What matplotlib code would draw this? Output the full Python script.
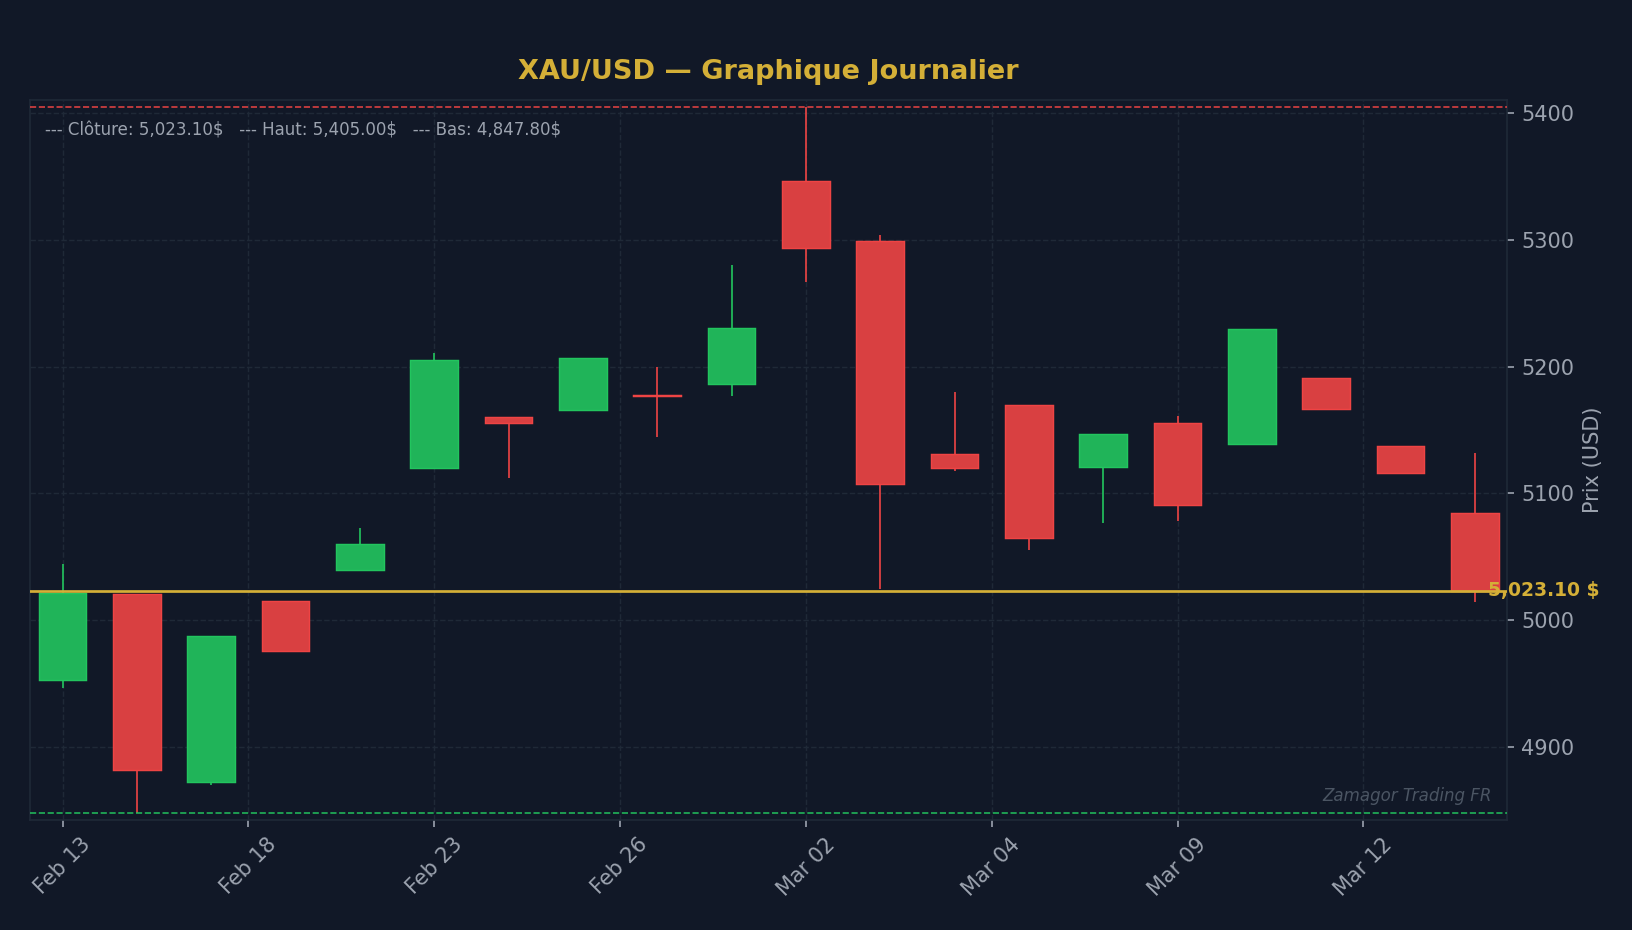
import matplotlib
matplotlib.use('Agg')
import matplotlib.pyplot as plt
from matplotlib.colors import to_rgb
from matplotlib.ticker import MultipleLocator

# daily candles
dates = ['Feb 13', 'Feb 17', 'Feb 18', 'Feb 19', 'Feb 20', 'Feb 23', 'Feb 24', 'Feb 25',
         'Feb 26', 'Feb 27', 'Mar 02', 'Mar 03', 'Mar 04', 'Mar 05', 'Mar 06', 'Mar 09',
         'Mar 10', 'Mar 11', 'Mar 12', 'Mar 13']
opens = [4952.3, 5020.6, 4871.7, 5014.7, 5039.4, 5120.0, 5160.0, 5165.8, 5177.5, 5186.5,
         5347.0, 5299.4, 5130.9, 5169.8, 5120.8, 5155.6, 5138.6, 5191.2, 5137.5, 5084.5]
highs = [5043.8, 5020.6, 4987.1, 5014.7, 5072.8, 5211.2, 5160.0, 5206.8, 5199.6, 5280.2,
         5405.0, 5303.8, 5180.3, 5169.8, 5146.9, 5160.7, 5230.1, 5191.2, 5137.5, 5132.0]
lows = [4946.5, 4847.8, 4869.9, 4975.5, 5039.4, 5120.0, 5112.4, 5165.8, 5144.4, 5176.7,
        5267.1, 5024.2, 5117.5, 5055.0, 5076.5, 5077.9, 5138.6, 5166.9, 5115.7, 5014.0]
closes = [5021.6, 4881.8, 4987.1, 4975.5, 5059.8, 5205.4, 5155.6, 5206.8, 5176.8, 5230.8,
          5294.0, 5107.7, 5120.0, 5064.9, 5146.9, 5090.6, 5230.1, 5166.9, 5115.7, 5023.1]
tick_pos = [0, 2.5, 5, 7.5, 10, 12.5, 15, 17.5]

BG = '#111827'
GRID = '#1f2937'
TXT = '#9ca3af'
GREEN = '#22c55e'
RED = '#ef4444'
GOLD = '#d4af37'


def blend(c, a=0.9):
    # opaque version of colour c at alpha a over the background
    fg, bg = to_rgb(c), to_rgb(BG)
    return tuple(a * f + (1 - a) * b for f, b in zip(fg, bg))


fig, ax = plt.subplots(figsize=(10.88, 6.2), dpi=150)
fig.patch.set_facecolor(BG)
ax.set_facecolor(BG)
plt.subplots_adjust(left=0.0183, right=0.9233, top=0.8924, bottom=0.1186)

x = list(range(len(dates)))
cols = [GREEN if c >= o else RED for o, c in zip(opens, closes)]

# wicks
ax.vlines(x, lows, highs, colors=cols, linewidth=0.8, zorder=2)

# bodies
bottoms = [min(o, c) for o, c in zip(opens, closes)]
heights = [abs(c - o) for o, c in zip(opens, closes)]
ax.bar(x, heights, bottom=bottoms, width=0.64,
       color=[blend(c) for c in cols], edgecolor=cols, linewidth=0.7, zorder=3)

last_close = closes[-1]
top = max(highs)
bottom = min(lows)
rng = top - bottom

ax.axhline(top, color=RED, linestyle='--', linewidth=0.8, alpha=0.9, zorder=4)
ax.axhline(bottom, color=GREEN, linestyle='--', linewidth=0.8, alpha=0.9, zorder=4)
ax.axhline(last_close, color=GOLD, linewidth=1.3, zorder=5)

ax.text(0.987, last_close, f'{last_close:,.2f} $', transform=ax.get_yaxis_transform(),
        color=GOLD, fontsize=9, fontweight='bold', ha='left', va='center',
        clip_on=False, zorder=6)

info = (f'--- Clôture: {last_close:,.2f}$   --- Haut: {top:,.2f}$   '
        f'--- Bas: {bottom:,.2f}$')
ax.text(0.0105, 0.97, info, transform=ax.transAxes, color=TXT, fontsize=8,
        ha='left', va='top', zorder=6)

ax.text(0.99, 0.02, 'Zamagor Trading FR', transform=ax.transAxes, color='#4b5563',
        fontsize=8, style='italic', ha='right', va='bottom', zorder=6)

ax.set_xlim(-0.44, len(dates) - 1 + 0.43)
ax.set_ylim(bottom - 0.01 * rng, top + 0.01 * rng)
ax.set_xticks(tick_pos)
ax.set_xticklabels([dates[round(t)] for t in tick_pos], rotation=45, ha='center')
ax.yaxis.set_major_locator(MultipleLocator(100))
ax.yaxis.tick_right()
ax.yaxis.set_label_position('right')
ax.set_ylabel('Prix (USD)', color=TXT, fontsize=10)
ax.tick_params(colors=TXT, labelsize=10)

ax.grid(True, color=GRID, linestyle='--', linewidth=0.7)
ax.set_axisbelow(True)
for s in ax.spines.values():
    s.set_color(GRID)

ax.set_title('XAU/USD — Graphique Journalier', color=GOLD, fontsize=13,
             fontweight='bold', pad=10)

fig.savefig('out.png', dpi=150, facecolor=BG)
